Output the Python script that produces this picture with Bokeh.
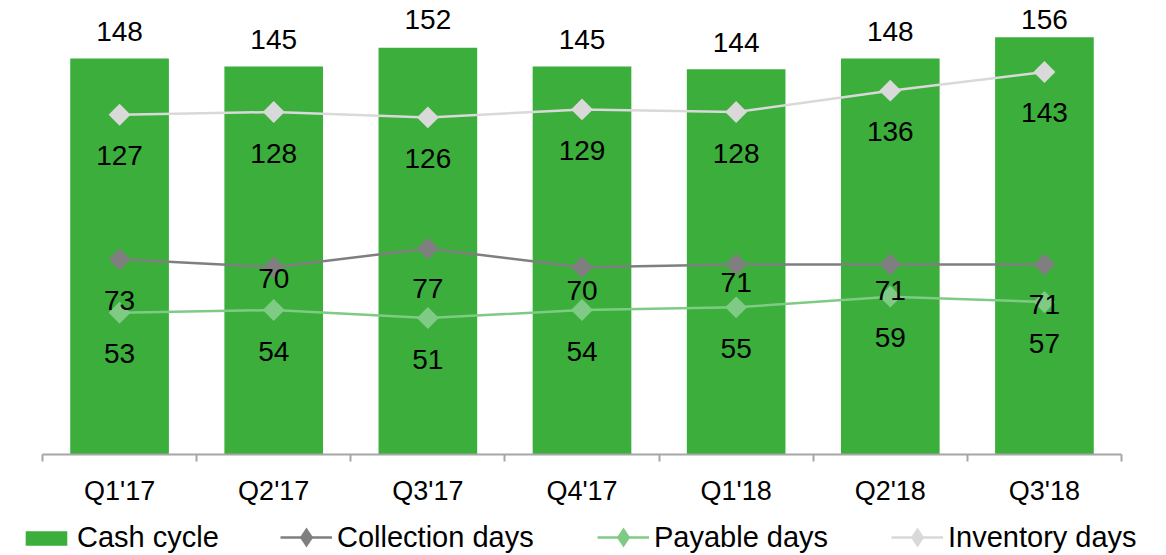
import numpy as np
from bokeh.plotting import figure
from bokeh.layouts import column
from bokeh.core.properties import value
from bokeh.models import (ColumnDataSource, LabelSet, FixedTicker, Range1d,
                          Legend, LegendItem)
from bokeh.embed import file_html
from bokeh.resources import INLINE

# ---- data ----
quarters = ["Q1'17", "Q2'17", "Q3'17", "Q4'17", "Q1'18", "Q2'18", "Q3'18"]
cash_cycle = [148, 145, 152, 145, 144, 148, 156]
inventory_days = [127, 128, 126, 129, 128, 136, 143]
collection_days = [73, 70, 77, 70, 71, 71, 71]
payable_days = [53, 54, 51, 54, 55, 59, 57]

# ---- styling ----
BAR_COLOR = "#3BAE3B"
INV_COLOR = "#D9D9D9"
COL_COLOR = "#7F7F7F"
PAY_COLOR = "#7FCB85"
AXIS_COLOR = "#A6A6A6"
FONT = "Arial"
VALUE_SIZE = "28px"
W = 1166
PAD_L, PAD_R = 42, 45          # blank margins left/right of the category band

# pixel gaps of labels from their marks (some nudged to avoid overlaps / the top edge)
cash_label_rise = [27, 27, 28, 27, 27, 27, 18]
collection_label_drop = [41, 11, 40, 23, 18, 26, 40]

n = len(quarters)
xs = np.arange(n) + 0.5
cat_px = (W - PAD_L - PAD_R) / n

src = ColumnDataSource(dict(
    x=xs, q=quarters,
    cash=cash_cycle, inv=inventory_days, col=collection_days, pay=payable_days,
    cash_t=[str(v) for v in cash_cycle],
    inv_t=[str(v) for v in inventory_days],
    col_t=[str(v) for v in collection_days],
    pay_t=[str(v) for v in payable_days],
    cash_dy=cash_label_rise,
    col_dy=[-d for d in collection_label_drop],
))

p = figure(width=W, height=509,
           x_range=Range1d(-PAD_L / cat_px, n + PAD_R / cat_px), y_range=Range1d(0, 169.7),
           output_backend="svg", toolbar_location=None,
           min_border_left=0, min_border_right=0, min_border_top=0, min_border_bottom=55)
p.xgrid.visible = False
p.ygrid.visible = False
p.yaxis.visible = False
p.outline_line_color = None

bars = p.vbar(x="x", top="cash", width=0.64, fill_color=BAR_COLOR, line_color=None, source=src)

def series(field, color):
    ln = p.line(x="x", y=field, line_color=color, line_width=2.5, source=src)
    mk = p.scatter(x="x", y=field, marker="square", angle=np.pi / 4, size=15.5,
                   fill_color=color, line_color=None, source=src)
    return ln, mk

series("inv", INV_COLOR)
series("col", COL_COLOR)
series("pay", PAY_COLOR)

def labels(y, text, dy):
    ls = LabelSet(x="x", y=y, text=text, y_offset=dy, source=src,
                  text_align="center", text_baseline="middle",
                  text_font=value(FONT), text_font_size=value(VALUE_SIZE),
                  text_color="black")
    p.add_layout(ls)

labels("cash", "cash_t", "cash_dy")
labels("inv", "inv_t", -41)
labels("col", "col_t", "col_dy")
labels("pay", "pay_t", -41)

ax = p.xaxis[0]
ax.bounds = (0, n)
ax.ticker = FixedTicker(ticks=list(xs), minor_ticks=list(range(n + 1)))
ax.major_label_overrides = {float(x): q for x, q in zip(xs, quarters)}
ax.major_tick_out = 0
ax.major_tick_in = 0
ax.minor_tick_out = 7
ax.minor_tick_in = 0
ax.minor_tick_line_color = AXIS_COLOR
ax.minor_tick_line_width = 2
ax.axis_line_color = AXIS_COLOR
ax.axis_line_width = 2
ax.major_label_standoff = 14
ax.major_label_text_font = FONT
ax.major_label_text_font_size = "27px"
ax.major_label_text_color = "black"

# ---- legend strip ----
lg = figure(width=W, height=46, x_range=Range1d(0, 1), y_range=Range1d(0, 1),
            x_axis_type=None, y_axis_type=None,
            output_backend="svg", toolbar_location=None,
            min_border_left=0, min_border_right=0, min_border_top=0, min_border_bottom=0)
lg.grid.visible = False
lg.outline_line_color = None

# key renderers sit outside the strip's visible range; only their legend swatches show
k_bar = lg.vbar(x=[-5], top=[-5], bottom=[-6], width=0.5, fill_color=BAR_COLOR, line_color=None)

def key(color):
    ln = lg.line(x=[-5, -4], y=[-5, -5], line_color=color, line_width=2.5)
    mk = lg.scatter(x=[-5], y=[-5], marker="diamond", size=10,
                    fill_color=color, line_color=None)
    return [ln, mk]

# (label, renderers, left edge px, swatch height, bottom offset px)
legend_entries = [
    ("Cash cycle", [k_bar], 20, 18, 1),
    ("Collection days", key(COL_COLOR), 280, 50, -7),
    ("Payable days", key(PAY_COLOR), 597, 50, -7),
    ("Inventory days", key(INV_COLOR), 891, 50, -7),
]
for label, rends, left, gh, bottom in legend_entries:
    leg = Legend(items=[LegendItem(label=label, renderers=rends)],
                 location=(left, bottom), orientation="horizontal",
                 glyph_width=52, glyph_height=gh, label_standoff=5,
                 padding=0, margin=0, border_line_color=None, background_fill_alpha=0,
                 label_text_font=FONT, label_text_font_size="29px", label_text_color="black")
    lg.add_layout(leg)

open("out.html", "w").write(file_html(column(p, lg), INLINE))
